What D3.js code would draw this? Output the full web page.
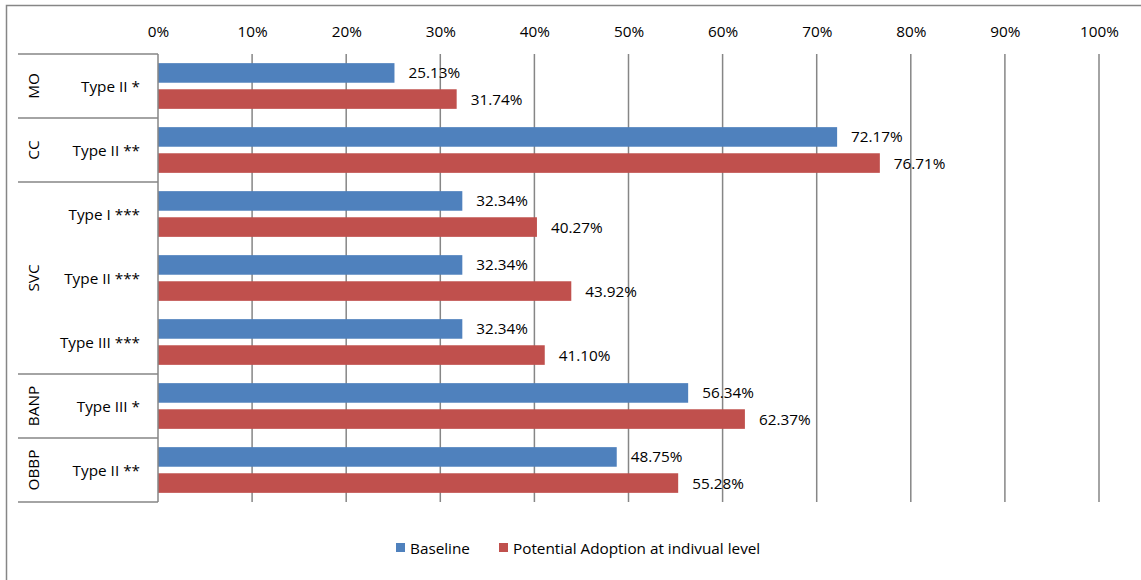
<!DOCTYPE html>
<html><head><meta charset="utf-8">
<script src="https://cdn.jsdelivr.net/npm/d3@7"></script>
<style>body{margin:0;background:#fff}svg{display:block}text{font-family:"Open Sans",Lato,sans-serif;fill:#000}</style>
</head><body>
<script>
const groups = ["MO","CC","SVC","SVC","SVC","BANP","OBBP"];
const subLabels = ["Type II *","Type II **","Type I ***","Type II ***","Type III ***","Type III *","Type II **"];
const baseline = [25.13,72.17,32.34,32.34,32.34,56.34,48.75];
const potential = [31.74,76.71,40.27,43.92,41.10,62.37,55.28];
const seriesNames = ["Baseline","Potential Adoption at indivual level"];
const colors = ["#4F81BD","#C0504D"];
const ticks = [0,10,20,30,40,50,60,70,80,90,100];

const FS=15.3;
const W=1141,H=580;
const svg=d3.select("body").append("svg").attr("width",W).attr("height",H);
svg.append("rect").attr("x",6.5).attr("y",5.5).attr("width",W).attr("height",H).attr("fill","none").attr("stroke","#868686").attr("stroke-width",1.5);

const x=d3.scaleLinear().domain([0,100]).range([158,1099]);
const y=d3.scaleBand().domain(d3.range(subLabels.length)).range([54,502]);
const inner=d3.scaleBand().domain([0,1]).range([0,y.bandwidth()]).paddingInner(0.25).paddingOuter(0.35);

// gridlines
svg.append("g").selectAll("line").data(ticks.slice(1)).join("line")
  .attr("x1",d=>x(d)).attr("x2",d=>x(d)).attr("y1",54).attr("y2",502)
  .attr("stroke","#868686").attr("stroke-width",1.5);

// top axis labels
const ax=svg.append("g").attr("transform","translate(0,54)").call(d3.axisTop(x).tickValues(ticks).tickFormat(d=>d+"%").tickSize(0).tickPadding(17));
ax.select(".domain").remove();
ax.selectAll("text").attr("font-size",FS).attr("font-family","'Open Sans',sans-serif").attr("fill","#000");

// bars
const data=subLabels.map((s,i)=>({i,vals:[baseline[i],potential[i]]}));
const row=svg.append("g").selectAll("g").data(data).join("g").attr("transform",d=>`translate(0,${y(d.i)})`);
row.selectAll("rect").data(d=>d.vals).join("rect")
  .attr("x",x(0)).attr("y",(d,k)=>inner(k)).attr("width",d=>x(d)-x(0)).attr("height",inner.bandwidth())
  .attr("fill",(d,k)=>colors[k]);
row.selectAll("text").data(d=>d.vals).join("text")
  .attr("x",d=>x(d)+14).attr("y",(d,k)=>inner(k)+inner.bandwidth()/2).attr("dy","0.36em")
  .attr("font-size",FS).text(d=>d.toFixed(2)+"%");

// axis line at 0
svg.append("line").attr("x1",x(0)).attr("x2",x(0)).attr("y1",54).attr("y2",502).attr("stroke","#868686").attr("stroke-width",1.5);

// sub labels
svg.append("g").selectAll("text").data(subLabels).join("text")
  .attr("x",140).attr("y",(d,i)=>y(i)+y.bandwidth()/2).attr("dy","0.36em").attr("text-anchor","end")
  .attr("font-size",FS).text(d=>d);

// group boxes
const grp=[];
groups.forEach((g,i)=>{ if(grp.length&&grp[grp.length-1].name===g) grp[grp.length-1].end=i; else grp.push({name:g,start:i,end:i}); });
const sep=[54,...grp.map(g=>y(g.end)+y.bandwidth())];
svg.append("g").selectAll("line").data(sep).join("line")
  .attr("x1",18).attr("x2",x(0)).attr("y1",d=>d).attr("y2",d=>d).attr("stroke","#868686").attr("stroke-width",1.5);
svg.append("g").selectAll("text").data(grp).join("text")
  .attr("transform",g=>`translate(33,${(y(g.start)+y(g.end)+y.bandwidth())/2}) rotate(-90)`)
  .attr("text-anchor","middle").attr("dy","0.36em").attr("font-size",FS).text(g=>g.name);

// legend
const leg=svg.append("g");
const lx=[396,499];
seriesNames.forEach((n,k)=>{
  leg.append("rect").attr("x",lx[k]).attr("y",543).attr("width",9).attr("height",9).attr("fill",colors[k]);
  leg.append("text").attr("x",lx[k]+14).attr("y",548).attr("dy","0.36em").attr("font-size",FS).text(n);
});
</script>
</body></html>
